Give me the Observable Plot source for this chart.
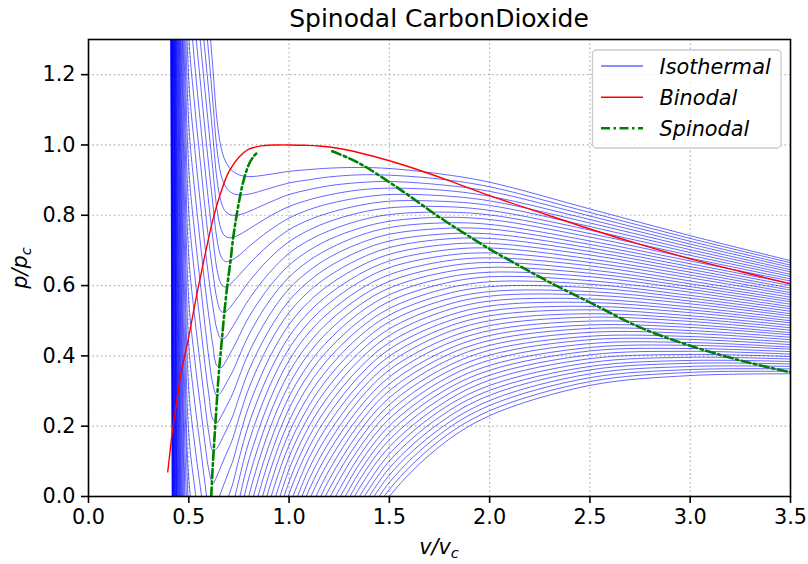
<!DOCTYPE html>
<html><head><meta charset="utf-8">
<script src="https://cdn.jsdelivr.net/npm/d3@7"></script>
<script src="https://cdn.jsdelivr.net/npm/@observablehq/plot@0.6"></script>
<style>body{margin:0;background:#fff} svg{display:block}</style>
</head><body><div id="chart"></div>
<script>
// ---- data ----
const titleText = "Spinodal CarbonDioxide";
const xTicks = [0, 0.5, 1.0, 1.5, 2.0, 2.5, 3.0, 3.5];
const xTickLabels = ["0.0", "0.5", "1.0", "1.5", "2.0", "2.5", "3.0", "3.5"];
const yTicks = [0, 0.2, 0.4, 0.6, 0.8, 1.0, 1.2];
const yTickLabels = ["0.0", "0.2", "0.4", "0.6", "0.8", "1.0", "1.2"];
const legendLabels = ["Isothermal", "Binodal", "Spinodal"];
const isothermCount = 49;

// reduced volume grid shared by the isotherms
const vGrid = [0.40,0.42,0.44,0.46,0.48,0.50,0.53,0.56,0.58,0.60,0.62,0.64,0.66,0.68,0.70,0.72,0.75,0.80,0.90,1.00,1.10,1.20,1.35,1.50,1.75,2.00,2.50,3.00,3.50];

// isotherm pressures at each grid volume: [index of first isotherm listed, values for isotherms start..]
const isothermColumns = [
 [36,[5.727,5.518,5.308,5.098,4.888,4.677,4.466,4.254,4.042,3.830,3.617,3.404,3.191]],
 [23,[3.206,3.059,2.913,2.765,2.618,2.470,2.322,2.174,2.025,1.877,1.728,1.578,1.429,1.279,1.128,0.978,0.827,0.676,0.525,0.373,0.221,0.069,-0.084,-0.236,-0.389,-0.543]],
 [15,[2.321,2.187,2.052,1.918,1.783,1.648,1.513,1.377,1.241,1.105,0.969,0.832,0.695,0.558,0.421,0.283,0.145,0.007,-0.132,-0.270,-0.409,-0.549,-0.688,-0.828,-0.968,-1.108,-1.249,-1.389,-1.530,-1.672]],
 [9,[2.006,1.877,1.749,1.620,1.491,1.361,1.232,1.102,0.972,0.841,0.711,0.580,0.448,0.317,0.185,0.053,-0.079,-0.211,-0.344,-0.477,-0.610,-0.743,-0.877,-1.011]],
 [6,[1.696,1.569,1.442,1.315,1.188,1.060,0.932,0.804,0.676,0.547,0.418,0.289,0.160,0.030,-0.100,-0.230,-0.361,-0.491,-0.622]],
 [4,[1.556,1.432,1.308,1.183,1.058,0.933,0.808,0.682,0.556,0.430,0.304,0.177,0.050,-0.077,-0.204,-0.331]],
 [2,[1.584,1.465,1.346,1.227,1.108,0.988,0.868,0.748,0.628,0.508,0.387,0.266,0.145,0.023,-0.098]],
 [2,[1.394,1.280,1.166,1.052,0.938,0.823,0.709,0.594,0.479,0.363,0.248,0.132,0.016,-0.100]],
 [0,[1.490,1.380,1.270,1.159,1.048,0.937,0.826,0.715,0.603,0.491,0.379,0.267,0.154,0.041,-0.072]],
 [0,[1.360,1.255,1.150,1.044,0.938,0.832,0.726,0.620,0.513,0.395,0.290,0.180,0.075,-0.030,-0.131]],
 [0,[1.220,1.123,1.027,0.930,0.832,0.735,0.638,0.540,0.430,0.320,0.220,0.130,0.037,-0.045,-0.130]],
 [0,[1.075,0.990,0.905,0.819,0.734,0.648,0.562,0.476,0.372,0.287,0.210,0.137,0.058,-0.020,-0.100]],
 [0,[0.995,0.917,0.840,0.762,0.684,0.606,0.527,0.449,0.366,0.296,0.226,0.157,0.085,0.012,-0.068,-0.185]],
 [0,[0.957,0.885,0.813,0.741,0.669,0.596,0.524,0.451,0.380,0.315,0.248,0.180,0.112,0.042,-0.033,-0.136,-0.210]],
 [0,[0.937,0.870,0.803,0.736,0.669,0.601,0.534,0.466,0.400,0.336,0.270,0.204,0.138,0.072,0.003,-0.080,-0.149,-0.218]],
 [0,[0.925,0.862,0.800,0.737,0.674,0.611,0.548,0.484,0.421,0.357,0.294,0.230,0.166,0.102,0.038,-0.027,-0.091,-0.156,-0.220]],
 [0,[0.915,0.858,0.801,0.744,0.686,0.629,0.571,0.513,0.455,0.397,0.339,0.281,0.223,0.164,0.106,0.047,-0.012,-0.071,-0.130,-0.189,-0.248]],
 [0,[0.910,0.860,0.811,0.761,0.711,0.661,0.611,0.561,0.511,0.460,0.410,0.360,0.309,0.258,0.207,0.156,0.105,0.054,0.003,-0.048,-0.100,-0.151,-0.203,-0.255]],
 [0,[0.916,0.876,0.836,0.796,0.756,0.716,0.676,0.635,0.595,0.555,0.514,0.473,0.433,0.392,0.351,0.310,0.269,0.228,0.187,0.145,0.104,0.063,0.021,-0.021,-0.062,-0.104,-0.146,-0.188]],
 [0,[0.925,0.892,0.859,0.825,0.792,0.759,0.725,0.692,0.658,0.624,0.591,0.557,0.523,0.489,0.455,0.421,0.387,0.353,0.318,0.284,0.250,0.215,0.181,0.146,0.112,0.077,0.042,0.007,-0.028,-0.063,-0.098,-0.133,-0.168]],
 [0,[0.930,0.901,0.873,0.844,0.816,0.787,0.758,0.729,0.700,0.671,0.642,0.613,0.584,0.555,0.525,0.496,0.467,0.437,0.408,0.378,0.349,0.319,0.289,0.259,0.230,0.200,0.170,0.140,0.110,0.080,0.049,0.019,-0.011,-0.042,-0.072,-0.102,-0.133]],
 [0,[0.934,0.909,0.884,0.858,0.833,0.807,0.782,0.756,0.731,0.705,0.680,0.654,0.628,0.602,0.576,0.550,0.524,0.498,0.472,0.446,0.420,0.394,0.367,0.341,0.315,0.288,0.262,0.235,0.209,0.182,0.155,0.129,0.102,0.075,0.048,0.021,-0.006,-0.033,-0.060,-0.087,-0.114,-0.142]],
 [0,[0.936,0.915,0.893,0.872,0.850,0.828,0.807,0.785,0.763,0.742,0.720,0.698,0.676,0.654,0.632,0.610,0.588,0.566,0.544,0.522,0.499,0.477,0.455,0.432,0.410,0.388,0.365,0.343,0.320,0.297,0.275,0.252,0.229,0.207,0.184,0.161,0.138,0.115,0.092,0.069,0.046,0.023,-0.001,-0.024,-0.047,-0.070,-0.094,-0.117,-0.140]],
 [0,[0.933,0.914,0.896,0.877,0.859,0.840,0.821,0.802,0.783,0.765,0.746,0.727,0.708,0.689,0.670,0.651,0.631,0.612,0.593,0.574,0.555,0.535,0.516,0.497,0.477,0.458,0.438,0.419,0.399,0.379,0.360,0.340,0.320,0.301,0.281,0.261,0.241,0.221,0.201,0.181,0.161,0.141,0.121,0.101,0.081,0.061,0.040,0.020,0.000]],
 [0,[0.918,0.903,0.887,0.872,0.856,0.840,0.825,0.809,0.794,0.778,0.762,0.746,0.731,0.715,0.699,0.683,0.667,0.651,0.635,0.619,0.603,0.587,0.571,0.555,0.539,0.523,0.506,0.490,0.474,0.458,0.441,0.425,0.408,0.392,0.376,0.359,0.343,0.326,0.309,0.293,0.276,0.259,0.243,0.226,0.209,0.192,0.176,0.159,0.142]],
 [0,[0.894,0.881,0.868,0.854,0.841,0.828,0.814,0.801,0.788,0.774,0.761,0.747,0.734,0.720,0.707,0.693,0.679,0.666,0.652,0.638,0.625,0.611,0.597,0.583,0.570,0.556,0.542,0.528,0.514,0.500,0.486,0.472,0.458,0.444,0.430,0.416,0.402,0.388,0.373,0.359,0.345,0.331,0.316,0.302,0.288,0.273,0.259,0.244,0.230]],
 [0,[0.818,0.808,0.798,0.788,0.778,0.768,0.758,0.748,0.738,0.727,0.717,0.707,0.697,0.687,0.676,0.666,0.656,0.645,0.635,0.625,0.614,0.604,0.594,0.583,0.573,0.562,0.552,0.541,0.531,0.520,0.510,0.499,0.488,0.478,0.467,0.456,0.446,0.435,0.424,0.414,0.403,0.392,0.381,0.370,0.360,0.349,0.338,0.327,0.316]],
 [0,[0.742,0.734,0.726,0.718,0.710,0.702,0.694,0.686,0.678,0.670,0.662,0.654,0.646,0.638,0.630,0.622,0.613,0.605,0.597,0.589,0.581,0.572,0.564,0.556,0.548,0.539,0.531,0.523,0.514,0.506,0.498,0.489,0.481,0.472,0.464,0.455,0.447,0.438,0.430,0.421,0.413,0.404,0.396,0.387,0.379,0.370,0.361,0.353,0.344]],
 [0,[0.671,0.665,0.658,0.652,0.645,0.639,0.632,0.626,0.619,0.613,0.606,0.600,0.593,0.587,0.580,0.574,0.567,0.560,0.554,0.547,0.540,0.534,0.527,0.520,0.514,0.507,0.500,0.494,0.487,0.480,0.473,0.466,0.460,0.453,0.446,0.439,0.432,0.425,0.419,0.412,0.405,0.398,0.391,0.384,0.377,0.370,0.363,0.356,0.349]]
];

const binodalV = [0.395,0.405,0.417,0.44,0.46,0.50,0.54,0.58,0.62,0.66,0.70,0.75,0.80,0.87,0.95,1.0,1.08,1.15,1.25,1.35,1.5,1.65,1.8,2.0,2.25,2.5,2.75,3.0,3.25,3.5];
const binodalP = [0.070,0.120,0.180,0.270,0.345,0.455,0.575,0.685,0.787,0.865,0.924,0.965,0.988,0.998,1.000,1.000,0.999,0.997,0.990,0.978,0.955,0.928,0.898,0.856,0.808,0.761,0.717,0.676,0.640,0.605];

const spinodalLiqV = [0.612,0.617,0.624,0.632,0.641,0.651,0.664,0.677,0.692,0.708,0.720,0.737,0.756,0.776,0.800,0.820,0.840];
const spinodalLiqP = [0.000,0.060,0.130,0.200,0.280,0.360,0.440,0.520,0.600,0.670,0.730,0.795,0.855,0.905,0.945,0.965,0.978];
const spinodalVapV = [1.215,1.30,1.372,1.50,1.60,1.738,1.87,2.00,2.15,2.30,2.50,2.75,3.00,3.25,3.50];
const spinodalVapP = [0.982,0.962,0.941,0.894,0.855,0.799,0.750,0.704,0.656,0.609,0.552,0.481,0.429,0.387,0.353];

// ---- tables for the marks ----
const isoRows = [];
isothermColumns.forEach(([start, vals], j) => {
  for (let k = 0; k < isothermCount; k++) {
    const i = k - start;
    const p = (i >= 0 && i < vals.length) ? vals[i] : null;
    isoRows.push({k, v: vGrid[j], p});
  }
});
const binodal = binodalV.map((v, i) => ({v, p: binodalP[i]}));
const spinodal = [
  ...spinodalLiqV.map((v, i) => ({branch: "liq", v, p: spinodalLiqP[i]})),
  ...spinodalVapV.map((v, i) => ({branch: "vap", v, p: spinodalVapP[i]}))
];

const FONT = "DejaVu Sans, sans-serif";
const grid = {stroke: "#b0b0b0", strokeOpacity: 1, strokeWidth: 1.2, strokeDasharray: "1.6,2.7"};

const svg = Plot.plot({
  width: 808, height: 564,
  marginLeft: 88, marginRight: 18, marginTop: 39, marginBottom: 68,
  style: {fontFamily: FONT, fontSize: "20.8px", background: "white", color: "black", overflow: "visible"},
  x: {domain: [0, 3.5]},
  y: {domain: [0, 1.3]},
  marks: [
    Plot.ruleX(xTicks, {...grid}),
    Plot.ruleY(yTicks, {...grid}),
    Plot.line(isoRows, {x: "v", y: "p", z: "k", stroke: "#0000ff", strokeWidth: 0.6, curve: "catmull-rom", clip: true}),
    Plot.line(binodal, {x: "v", y: "p", stroke: "#ff0000", strokeWidth: 1.4, curve: "catmull-rom", clip: true}),
    Plot.line(spinodal, {x: "v", y: "p", z: "branch", stroke: "#008000", strokeWidth: 2.6, strokeDasharray: "9,3.5,2.5,3.5", curve: "catmull-rom", clip: true}),
    Plot.frame({stroke: "black", strokeWidth: 1.6}),
    Plot.axisX(xTicks, {tickFormat: d => xTickLabels[xTicks.indexOf(d)], tickSize: 7, tickPadding: 6, label: null, strokeWidth: 1.6, fontSize: 20.8}),
    Plot.axisY(yTicks, {tickFormat: d => yTickLabels[yTicks.indexOf(d)], tickSize: 7, tickPadding: 6, label: null, strokeWidth: 1.6, fontSize: 20.8})
  ]
});

const s = d3.select(svg);
// title
s.append("text").attr("x", 439).attr("y", 27).attr("text-anchor", "middle")
  .attr("font-family", FONT).attr("font-size", 25).attr("fill", "black").text(titleText);
// x label  v/v_c
const xl = s.append("text").attr("x", 439).attr("y", 554).attr("text-anchor", "middle")
  .attr("font-family", FONT).attr("font-size", 20.8).attr("font-style", "italic").attr("fill", "black");
xl.append("tspan").text("v/v");
xl.append("tspan").attr("font-size", 14.6).attr("dy", 4).text("c");
// y label  p/p_c
const yl = s.append("text").attr("transform", "translate(27,268) rotate(-90)").attr("text-anchor", "middle")
  .attr("font-family", FONT).attr("font-size", 20.8).attr("font-style", "italic").attr("fill", "black");
yl.append("tspan").text("p/p");
yl.append("tspan").attr("font-size", 14.6).attr("dy", 4).text("c");

// legend
const lg = s.append("g").attr("text-anchor", "start");
lg.append("rect").attr("x", 592.5).attr("y", 50).attr("width", 188.5).attr("height", 98)
  .attr("rx", 4).attr("fill", "white").attr("fill-opacity", 0.8).attr("stroke", "#cccccc").attr("stroke-width", 1.3);
const rowsY = [66, 97.3, 128.3];
const styles = [
  {stroke: "#0000ff", w: 0.9, dash: null},
  {stroke: "#ff0000", w: 1.4, dash: null},
  {stroke: "#008000", w: 2.6, dash: "9,3.5,2.5,3.5"}
];
legendLabels.forEach((lab, i) => {
  const ln = lg.append("line").attr("x1", 601).attr("x2", 643).attr("y1", rowsY[i]).attr("y2", rowsY[i])
    .attr("stroke", styles[i].stroke).attr("stroke-width", styles[i].w);
  if (styles[i].dash) ln.attr("stroke-dasharray", styles[i].dash);
  lg.append("text").attr("x", 659.5).attr("y", rowsY[i] + 7.5).attr("text-anchor", "start")
    .attr("font-family", FONT).attr("font-size", 20.8).attr("font-style", "italic").attr("fill", "black").text(lab);
});

document.getElementById("chart").appendChild(svg);
</script>
</body></html>
